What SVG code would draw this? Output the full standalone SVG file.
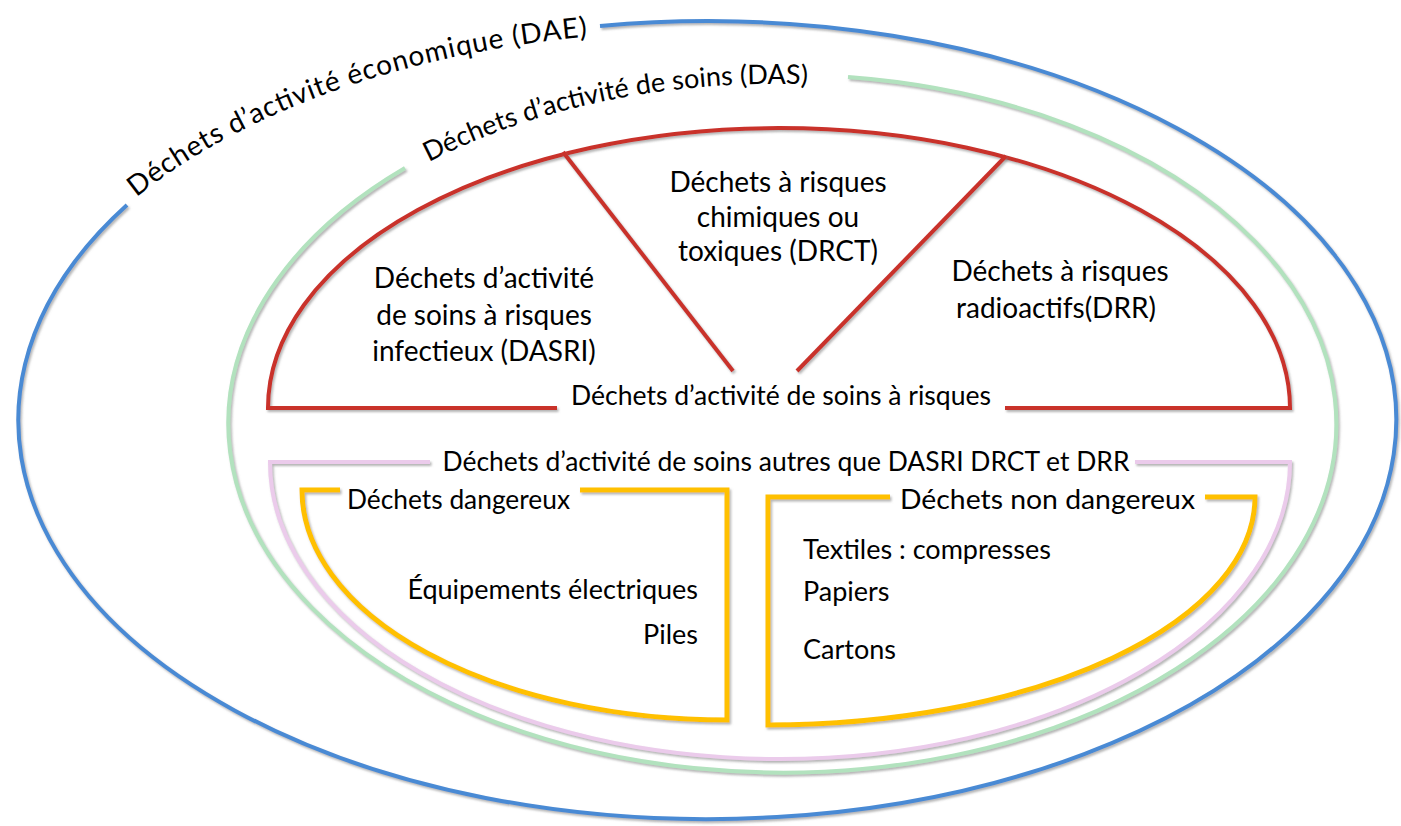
<svg xmlns="http://www.w3.org/2000/svg" width="1401" height="826" viewBox="0 0 1401 826">
  <defs>
    <filter id="sh" x="-5%" y="-5%" width="110%" height="110%">
      <feDropShadow dx="1.5" dy="2" stdDeviation="1.2" flood-color="#777" flood-opacity="0.55"/>
    </filter>
    <path id="pDAE" d="M131,190 A700,410 0 0 1 594,27"/>
    <path id="pDAS" d="M425,154 A554,349 0 0 1 818,75.8"/>
  </defs>
  <style>
    .ln { fill: none; stroke-linecap: butt; stroke-linejoin: miter; filter: url(#sh); }
    .blue { stroke: #4A8AD4; stroke-width: 4; }
    .green { stroke: #B2E2BE; stroke-width: 4; }
    .red { stroke: #C9302C; stroke-width: 4; }
    .pink { stroke: #EBCBEB; stroke-width: 4; }
    .yellow { stroke: #FFC000; stroke-width: 5; }
    text { font-family: "Lato", "Liberation Sans", sans-serif; fill: #000; font-size: 27px; }
    .up { font-size: 28px; }
    .c { text-anchor: middle; }
    .r { text-anchor: end; }
    .big { font-size: 28px; }
  </style>
  <rect width="1401" height="826" fill="#fff"/>

  <g id="connectors">
    <path class="ln blue" d="M600,26 A689,399 0 1 1 127,205"/>
    <path class="ln green" d="M848,77 A554,349 0 1 1 405,168"/>
    <path class="ln red" d="M557,408 H268 A511,280 0 0 1 1290,408 H1005"/>
    <path class="ln red" d="M563,152 L733,371"/>
    <path class="ln red" d="M1006,156 L797,371"/>
    <path class="ln pink" d="M430,462 H270 A510,297 0 0 0 1290,462 H1135"/>
    <path class="ln yellow" d="M340,490 H302 A425,230 0 0 0 727,720 V490 H580"/>
    <path class="ln yellow" d="M890,497 H768 V725 A487,228 0 0 0 1255,497 H1205"/>
  </g>

  <g id="dae">
    <text class="big" dy="9"><textPath href="#pDAE" textLength="490" lengthAdjust="spacing">Déchets d’activité économique (DAE)</textPath></text>
  </g>
  <g id="das">
    <text class="big" dy="9" style="font-size:27px"><textPath href="#pDAS" textLength="395" lengthAdjust="spacing">Déchets d’activité de soins (DAS)</textPath></text>
  </g>
  <g id="dasr">
    <text class="c" x="781" y="405" textLength="420" lengthAdjust="spacingAndGlyphs">Déchets d’activité de soins à risques</text>
  </g>
  <g id="dasri">
    <text class="c up" x="484" y="288">Déchets d’activité</text>
    <text class="c up" x="484" y="325">de soins à risques</text>
    <text class="c up" x="484" y="361">infectieux (DASRI)</text>
  </g>
  <g id="drct">
    <text class="c up" x="778" y="192">Déchets à risques</text>
    <text class="c up" x="778" y="227">chimiques ou</text>
    <text class="c up" x="778" y="261">toxiques (DRCT)</text>
  </g>
  <g id="drr">
    <text class="c up" x="1060" y="281">Déchets à risques</text>
    <text class="c up" x="1056" y="318">radioactifs(DRR)</text>
  </g>
  <g id="autres">
    <text class="c" x="786" y="471" textLength="687" lengthAdjust="spacingAndGlyphs">Déchets d’activité de soins autres que DASRI DRCT et DRR</text>
  </g>
  <g id="dangereux">
    <text x="347" y="509" textLength="223" lengthAdjust="spacingAndGlyphs">Déchets dangereux</text>
    <text class="r" x="698" y="599">Équipements électriques</text>
    <text class="r" x="698" y="644">Piles</text>
  </g>
  <g id="non-dangereux">
    <text x="900" y="509" textLength="295" lengthAdjust="spacingAndGlyphs">Déchets non dangereux</text>
    <text x="803" y="559">Textiles : compresses</text>
    <text x="803" y="601">Papiers</text>
    <text x="803" y="659">Cartons</text>
  </g>
</svg>
